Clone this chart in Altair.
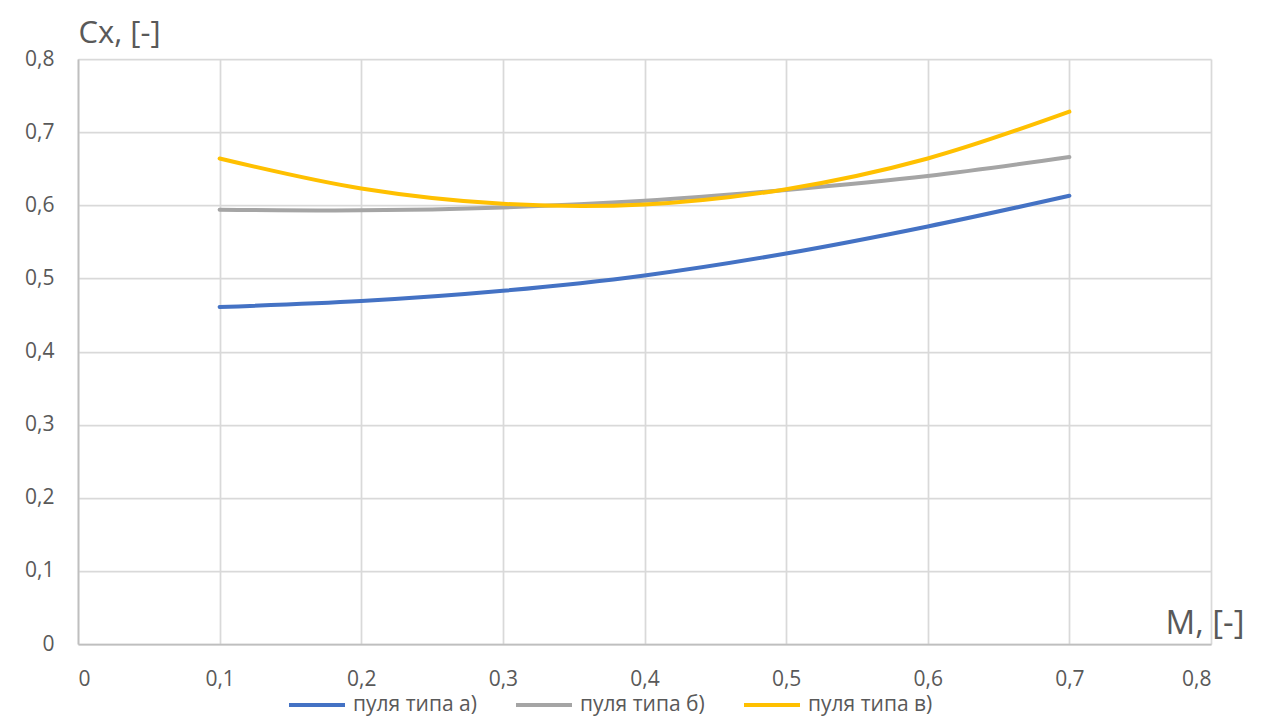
import altair as alt
import pandas as pd

# data
mach = [0.1, 0.2, 0.3, 0.4, 0.5, 0.6, 0.7]
series_names = ["пуля типа а)", "пуля типа б)", "пуля типа в)"]
cx_a = [0.461, 0.469, 0.483, 0.504, 0.534, 0.571, 0.613]
cx_b = [0.594, 0.593, 0.597, 0.606, 0.621, 0.640, 0.666]
cx_v = [0.664, 0.623, 0.602, 0.601, 0.622, 0.664, 0.728]
tick_values = [0, 0.1, 0.2, 0.3, 0.4, 0.5, 0.6, 0.7, 0.8]
colors = ["#4472C4", "#A5A5A5", "#FFC000"]

rows = []
for name, vals in zip(series_names, [cx_a, cx_b, cx_v]):
    for m, v in zip(mach, vals):
        rows.append({"M": m, "Cx": v, "series": name})
df = pd.DataFrame(rows)

FONT = "Open Sans"
TXT = "#595959"
label_expr = "datum.value == 0 ? '0' : replace(format(datum.value, '.1f'), '.', ',')"

chart = alt.Chart(df).mark_line(
    interpolate="cardinal", strokeWidth=4, strokeCap="round"
).encode(
    x=alt.X("M:Q",
            scale=alt.Scale(domain=[0, 0.8], nice=False, zero=False),
            axis=alt.Axis(values=tick_values, labelExpr=label_expr,
                          title="M, [-]", titleAngle=0, titleAlign="left",
                          titleBaseline="alphabetic", titleX=1087, titleY=-11,
                          titleFontSize=33, titleFontWeight="normal",
                          titleFont=FONT, titleColor=TXT,
                          labelFont=FONT, labelFontSize=21, labelColor=TXT,
                          labelPadding=24, ticks=False,
                          domainColor="#bfbfbf", domainWidth=1.75,
                          gridColor="#d9d9d9", gridWidth=1.75)),
    y=alt.Y("Cx:Q",
            scale=alt.Scale(domain=[0, 0.8], nice=False, zero=False),
            axis=alt.Axis(values=tick_values, labelExpr=label_expr,
                          title="Cx, [-]", titleAngle=0, titleAlign="left",
                          titleBaseline="alphabetic", titleX=0, titleY=-17,
                          titleFontSize=31, titleFontWeight="normal",
                          titleFont=FONT, titleColor=TXT,
                          labelFont=FONT, labelFontSize=21, labelColor=TXT,
                          labelPadding=24, ticks=False,
                          domainColor="#bfbfbf", domainWidth=1.75,
                          gridColor="#d9d9d9", gridWidth=1.75)),
    color=alt.Color("series:N",
                    scale=alt.Scale(domain=series_names, range=colors),
                    sort=series_names,
                    legend=alt.Legend(title=None, orient="none",
                                      direction="horizontal",
                                      legendX=209, legendY=616,
                                      symbolType="stroke", symbolSize=3136,
                                      symbolStrokeWidth=4,
                                      labelFont=FONT, labelFontSize=21,
                                      labelColor=TXT, labelOffset=6,
                                      columnPadding=31, padding=0)),
).properties(
    width=1133, height=585,
    autosize=alt.AutoSizeParams(type="none"),
    padding={"left": 70, "top": 51, "right": 42, "bottom": 73},
).configure_view(stroke=None)

chart.save("out.html", embed_options={"renderer": "svg", "actions": False})
